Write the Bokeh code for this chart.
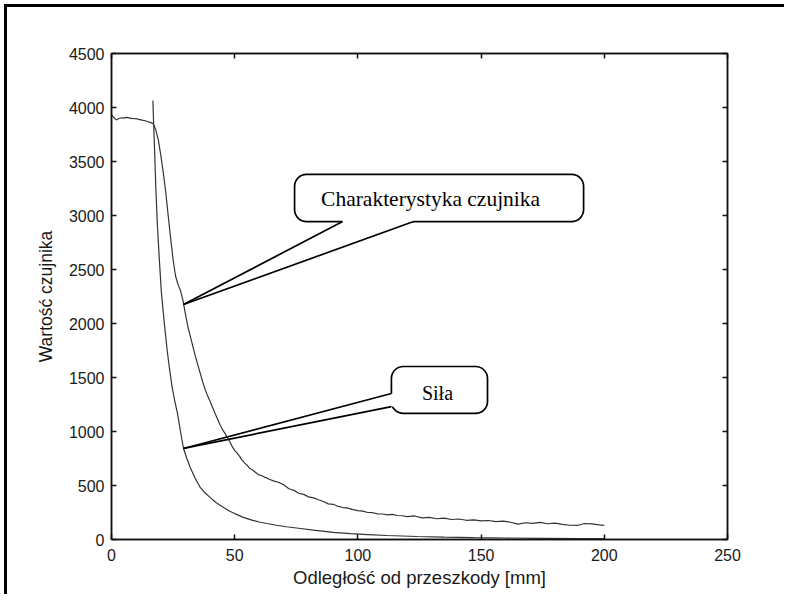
from bokeh.plotting import figure
from bokeh.layouts import column
from bokeh.models import LinearAxis, BoxAnnotation, Range1d, FixedTicker
from bokeh.core.properties import value
from bokeh.embed import file_html
from bokeh.resources import INLINE

# ---- data ----
sensor_x = [0, 1, 2, 3, 4, 5, 6, 7, 8, 9, 10, 11, 12, 13, 14, 15, 16, 17, 18, 19,
            20, 21, 22, 23, 24, 25, 26, 27, 28, 29, 30, 31, 32, 33, 34, 35, 36, 37, 38, 39,
            40, 41, 42, 43, 44, 45, 46, 47, 48, 49, 50, 51, 52, 53, 54, 55, 56, 57, 58, 59,
            60, 61, 62, 63, 64, 66, 68, 70, 72, 74, 76, 78, 80, 82, 84, 86, 88, 90, 92, 94,
            96, 98, 100, 102, 104, 106, 108, 110, 112, 114, 116, 118, 120, 123, 126, 129,
            132, 135, 138, 141, 144, 147, 150, 153, 156, 159, 162, 165, 168, 171, 174, 177,
            180, 183, 186, 189, 192, 195, 198, 200]
sensor_y = [3935, 3905, 3885, 3898, 3905, 3902, 3908, 3904, 3900, 3896, 3898, 3890, 3886, 3880,
            3875, 3868, 3860, 3848, 3790, 3700, 3560, 3400, 3220, 3000, 2790, 2590, 2440, 2360,
            2305, 2215, 2090, 1970, 1880, 1790, 1700, 1620, 1540, 1460, 1390, 1330, 1280, 1225,
            1170, 1115, 1065, 1020, 985, 945, 905, 860, 825, 800, 770, 735, 710, 688, 660, 648,
            630, 612, 598, 590, 578, 570, 558, 540, 528, 505, 470, 455, 428, 418, 395, 385, 368,
            352, 330, 326, 306, 296, 290, 276, 268, 262, 250, 248, 238, 236, 228, 232, 222, 220,
            212, 218, 200, 205, 192, 198, 185, 190, 178, 182, 172, 176, 165, 170, 160, 142, 155,
            150, 158, 146, 152, 140, 132, 130, 148, 145, 135, 130]

force_x = [16.8, 17.1, 17.5, 18.0, 18.6, 19.4, 20.2, 21.4, 22.6, 23.6, 24.6, 25.7, 26.8, 28.0,
           29.2, 30.5, 32, 34, 36, 38, 40, 42.5, 45.5, 48, 50, 53.5, 57, 60, 63, 67, 71, 76.7,
           82, 90, 97, 104, 112, 124, 135, 147, 160, 175, 190, 200]
force_y = [4065, 3850, 3600, 3250, 2920, 2600, 2300, 2010, 1750, 1570, 1410, 1280, 1165, 1000,
           845, 755, 665, 565, 482, 430, 390, 340, 296, 262, 240, 205, 180, 162, 148, 132, 118,
           102, 86, 66, 54, 46, 37, 28, 22, 17, 14, 11, 9, 8]

x_ticks = [0, 50, 100, 150, 200, 250]
y_ticks = [0, 500, 1000, 1500, 2000, 2500, 3000, 3500, 4000, 4500]
x_title = "Odległość od przeszkody [mm]"
y_title = "Wartość czujnika"
callout_texts = ["Charakterystyka czujnika", "Siła"]

# ---- styling ----
AX = "#111111"
CURVE = "#333333"
TICK_FONT = "Liberation Sans"

p = figure(frame_width=616, frame_height=486,
           x_range=Range1d(0, 250), y_range=Range1d(0, 4500),
           output_backend="svg", toolbar_location=None,
           min_border_left=104, min_border_top=46, min_border_right=57,
           min_border_bottom=55)
p.grid.visible = False
p.background_fill_color = "white"
p.border_fill_color = "white"
p.outline_line_color = AX
p.outline_line_width = 1.5

def style_axis(ax, ticks, show_labels):
    ax.ticker = FixedTicker(ticks=ticks)
    ax.major_tick_in = 5
    ax.major_tick_out = 0
    ax.minor_tick_line_color = None
    ax.axis_line_color = AX
    ax.axis_line_width = 1.5
    ax.major_tick_line_color = AX
    ax.major_tick_line_width = 1.5
    ax.major_label_text_font = TICK_FONT
    ax.major_label_text_font_size = "16px"
    if show_labels:
        ax.major_label_text_color = "#1a1a1a"
    else:
        ax.major_label_text_color = None

style_axis(p.xaxis[0], x_ticks, True)
style_axis(p.yaxis[0], y_ticks, True)
p.xaxis[0].major_label_standoff = 9
p.yaxis[0].major_label_standoff = 7
p.xaxis[0].axis_label = x_title
p.yaxis[0].axis_label = y_title
for ax in (p.xaxis[0], p.yaxis[0]):
    ax.axis_label_text_font = TICK_FONT
    ax.axis_label_text_font_style = "normal"
    ax.axis_label_text_color = "#1a1a1a"
p.xaxis[0].axis_label_text_font_size = "18.5px"
p.yaxis[0].axis_label_text_font_size = "17.5px"
p.xaxis[0].axis_label_standoff = 3
p.yaxis[0].axis_label_standoff = 10

top_ax = LinearAxis()
style_axis(top_ax, x_ticks, False)
p.add_layout(top_ax, "above")
right_ax = LinearAxis()
style_axis(right_ax, y_ticks, False)
p.add_layout(right_ax, "right")

# ---- callout boxes (annotation layout in data units) ----
box1 = dict(left=74.3, right=191.6, top=3380, bottom=2944)
tail1 = dict(apex=(29.2, 2176), base_x=(93.8, 122.6))
box2 = dict(left=113.6, right=152.6, top=1602, bottom=1167)
tail2 = dict(apex=(29.2, 843), base_y=(1352, 1231))

for b in (box1, box2):
    p.add_layout(BoxAnnotation(left=b["left"], right=b["right"], top=b["top"], bottom=b["bottom"],
                               fill_color="white", fill_alpha=1.0, line_color="black",
                               line_alpha=1.0, line_width=1.7, border_radius=12,
                               level="underlay"))

# tail fills (cover the box edge where the tail joins)
ax1, ay1 = tail1["apex"]
bx1a, bx1b = tail1["base_x"]
p.patch([ax1, bx1a, bx1a, bx1b, bx1b], [ay1, box1["bottom"], box1["bottom"] + 25,
        box1["bottom"] + 25, box1["bottom"]], fill_color="white", line_color=None)
ax2, ay2 = tail2["apex"]
by2a, by2b = tail2["base_y"]
p.patch([ax2, box2["left"], box2["left"] + 1.2, box2["left"] + 1.2, box2["left"]],
        [ay2, by2a, by2a, by2b, by2b], fill_color="white", line_color=None)

# curves
p.line(sensor_x, sensor_y, line_color=CURVE, line_width=1.2)
p.line(force_x, force_y, line_color=CURVE, line_width=1.2)

# tail edges
p.multi_line([[ax1, bx1a], [ax1, bx1b], [ax2, box2["left"]], [ax2, box2["left"]]],
             [[ay1, box1["bottom"]], [ay1, box1["bottom"]], [ay2, by2a], [ay2, by2b]],
             line_color="black", line_width=1.7)

p.text(x=[129.5, 132.3], y=[3157, 1361], text=callout_texts,
       text_font=value("Liberation Serif"), text_font_size=["21.5px", "20px"],
       text_align="center", text_baseline="middle", text_color="black")

# picture frame (top and left edges) on a wrapping layout
page = column(p, styles={"border-top": "3px solid black", "border-left": "3px solid black",
                         "margin-left": "4px", "margin-top": "4px"})

open("out.html", "w").write(file_html(page, INLINE))
